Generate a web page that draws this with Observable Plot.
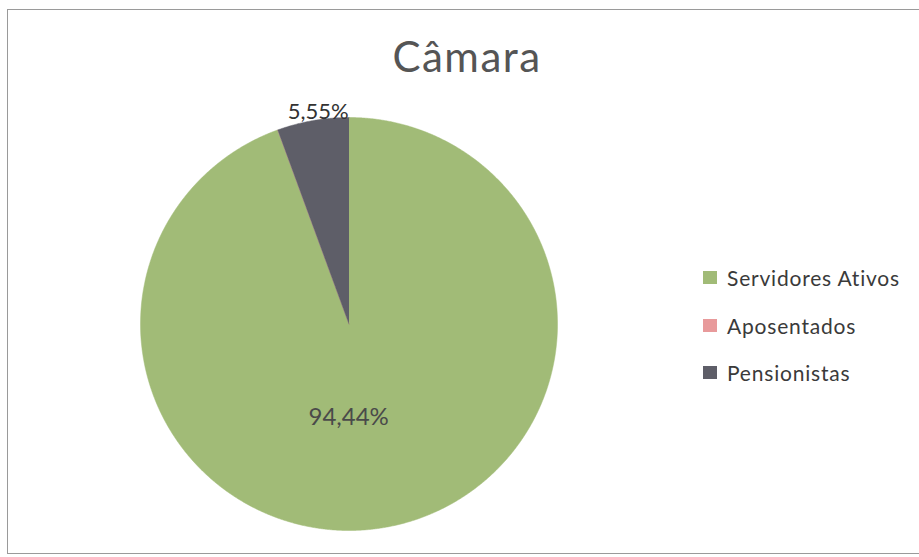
<!DOCTYPE html>
<html><head><meta charset="utf-8">
<script src="https://cdn.jsdelivr.net/npm/d3@7"></script>
<script src="https://cdn.jsdelivr.net/npm/@observablehq/plot@0.6"></script>
<style>
body{margin:0;background:#fff;overflow:hidden}
#wrap{position:relative;width:919px;height:557px;font-family:Lato,"Open Sans",sans-serif;overflow:hidden}
#frame{position:absolute;left:7px;top:9px;width:930px;height:545px;border:1px solid #9a9a9a;box-sizing:border-box}
#title{position:absolute;left:317px;width:300px;top:35px;text-align:center;font-size:42px;letter-spacing:1.5px;color:#555;line-height:1;font-weight:400}
#legend{position:absolute;left:703px;top:254px}
.item{display:flex;align-items:center;height:47.5px;font-size:21px;letter-spacing:0.8px;color:#3a3a3a}
.sw{width:14px;height:13px;margin-right:10px}
#chart{position:absolute;left:0;top:0}
</style></head><body><div id="wrap"><div id="frame"></div><div id="chart"></div><div id="title"></div><div id="legend"></div></div>
<script>
const title = "Câmara";
const categories = ["Servidores Ativos", "Aposentados", "Pensionistas"];
const values = [94.44, 0.01, 5.55];
const labels = ["94,44%", "", "5,55%"];
const colors = ["#a1bb77", "#e89a9b", "#5e5e68"];

const pie = d3.pie().sort(null).value(d => d.value)(categories.map((c, i) => ({category: c, value: values[i], label: labels[i]})));
const pts = [];
pie.forEach(s => {
  const n = Math.max(2, Math.ceil((s.endAngle - s.startAngle) / 0.005));
  pts.push({category: s.data.category, x: 0, y: 0});
  for (let k = 0; k <= n; k++) {
    const a = s.startAngle + (s.endAngle - s.startAngle) * k / n;
    pts.push({category: s.data.category, x: Math.sin(a), y: Math.cos(a)});
  }
});
const labs = pie.filter(s => s.data.label).map(s => {
  const m = (s.startAngle + s.endAngle) / 2;
  const f = s.data.value > 50 ? 0.46 : 1.045;
  return {label: s.data.label, x: Math.sin(m) * f, y: Math.cos(m) * f, inside: s.data.value > 50};
});

const chart = Plot.plot({
  width: 919, height: 557,
  marginLeft: 140, marginRight: 362, marginTop: 117, marginBottom: 27,
  x: {domain: [-1, 1], axis: null},
  y: {domain: [-1, 1], axis: null},
  color: {domain: categories, range: colors},
  style: {background: "transparent"},
  marks: [
    Plot.line(pts, {x: "x", y: "y", z: "category", fill: "category", stroke: "category", strokeWidth: 0.5}),
    Plot.text(labs.filter(d => d.inside), {x: "x", y: "y", text: "label", dx: -17, fontSize: 24, fill: "#4a4a4a", fontFamily: "Lato", letterSpacing: 0.8}),
    Plot.text(labs.filter(d => !d.inside), {x: "x", y: "y", text: "label", dx: 7, fontSize: 22, fill: "#333", fontFamily: "Lato", letterSpacing: 0.6})
  ]
});
document.getElementById("chart").appendChild(chart);
document.getElementById("title").textContent = title;
const leg = document.getElementById("legend");
categories.forEach((c, i) => {
  const it = document.createElement("div"); it.className = "item";
  const sw = document.createElement("div"); sw.className = "sw"; sw.style.background = colors[i];
  const t = document.createElement("span"); t.textContent = c;
  it.appendChild(sw); it.appendChild(t); leg.appendChild(it);
});
</script></body></html>
